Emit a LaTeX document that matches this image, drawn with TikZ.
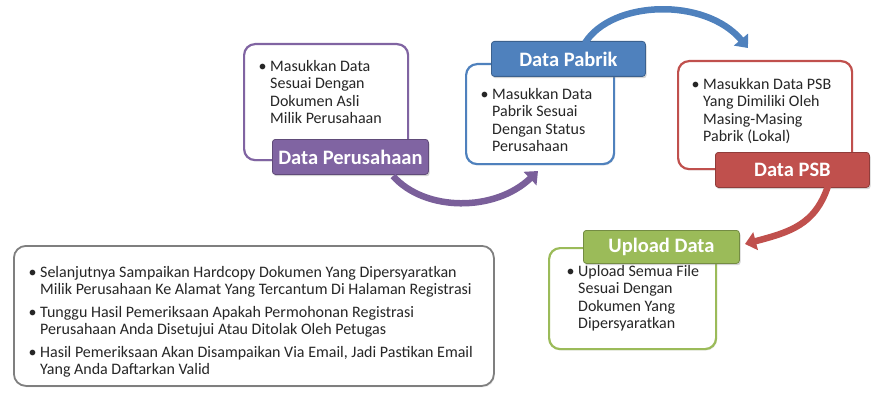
\documentclass[tikz,border=0pt]{standalone}
\usepackage{fontspec}
\setmainfont{Carlito}
\usetikzlibrary{arrows.meta,shadows}
\definecolor{cpur}{HTML}{8064A2}
\definecolor{cblu}{HTML}{4F81BD}
\definecolor{cred}{HTML}{C0504D}
\definecolor{cgrn}{HTML}{9BBB59}
\definecolor{cgry}{HTML}{7F7F7F}
\definecolor{ctxt}{HTML}{262626}
\newcommand\bl{\llap{\textbullet\hspace{3.5pt}}}
\begin{document}
\begin{tikzpicture}[x=1pt,y=-1pt,
  outbox/.style={draw=#1, line width=2.2pt, fill=white, rounded corners=11pt, anchor=north west, inner sep=0pt,
     drop shadow={shadow xshift=1pt, shadow yshift=-1.5pt, opacity=0.15}},
  lab/.style={draw=#1!75!black, line width=0.8pt, fill=#1, rounded corners=3pt, anchor=north west, inner sep=0pt,
     text=white, font=\fontsize{20.5}{22}\selectfont\bfseries,
     drop shadow={shadow xshift=1.2pt, shadow yshift=-1.8pt, opacity=0.35}},
  body/.style={anchor=north west, inner sep=0pt, align=left, text=ctxt, font=\fontsize{16}{17.5}\selectfont},
  arr/.style={draw=#1, line width=6.5pt, -{Triangle[length=11pt,width=18pt]}},
]
\useasboundingbox (0,0) rectangle (895,404);

% box 1
\node[outbox=cpur, minimum width=164pt, minimum height=116pt] (b1) at (243,43) {};
\node[lab=cpur, minimum width=156pt, minimum height=35pt] (l1) at (272,139) {Data Perusahaan};
\node[body] (t1) at (270,60) {\bl Masukkan Data\\Sesuai Dengan\\Dokumen Asli\\Milik Perusahaan};

% box 2
\node[outbox=cblu, minimum width=148pt, minimum height=100pt] (b2) at (465,63) {};
\node[lab=cblu, minimum width=154pt, minimum height=35pt] (l2) at (491,41) {Data Pabrik};
\node[body] (t2) at (492,88) {\bl Masukkan Data\\Pabrik Sesuai\\Dengan Status\\Perusahaan};

% box 3
\node[outbox=cred, minimum width=174pt, minimum height=108pt] (b3) at (677,60) {};
\node[lab=cred, minimum width=154pt, minimum height=35pt] (l3) at (715,152) {Data PSB};
\node[body] (t3) at (703,78) {\bl Masukkan Data PSB\\Yang Dimiliki Oleh\\Masing-Masing\\Pabrik (Lokal)};

% box 4
\node[outbox=cgrn, minimum width=167pt, minimum height=101pt] (b4) at (548,247) {};
\node[lab=cgrn, minimum width=156pt, minimum height=33pt] (l4) at (583,230) {Upload Data};
\node[body] (t4) at (578,265) {\bl Upload Semua File\\Sesuai Dengan\\Dokumen Yang\\Dipersyaratkan};

% box 5
\node[draw=cgry, line width=1.8pt, fill=white, rounded corners=12pt, anchor=north west, inner sep=0pt,
      minimum width=480pt, minimum height=140pt,
      drop shadow={shadow xshift=1pt, shadow yshift=-1.5pt, opacity=0.15}] (b5) at (13,245) {};
\node[body] (t5a) at (40,266) {\bl Selanjutnya Sampaikan Hardcopy Dokumen Yang Dipersyaratkan\\Milik Perusahaan Ke Alamat Yang Tercantum Di Halaman Registrasi};
\node[body] (t5b) at (40,306) {\bl Tunggu Hasil Pemeriksaan Apakah Permohonan Registrasi\\Perusahaan Anda Disetujui Atau Ditolak Oleh Petugas};
\node[body] (t5c) at (40,346) {\bl Hasil Pemeriksaan Akan Disampaikan Via Email, Jadi Pastikan Email\\Yang Anda Daftarkan Valid};

% connectors
\coordinate (a1s) at (393,176);
\coordinate (a1e) at (538,171);
\draw[arr=cpur!95!black] (a1s) .. controls (425,212) and (495,212) .. (a1e);
\coordinate (a2s) at (585,43);
\coordinate (a2e) at (748,48);
\draw[arr=cblu] (a2s) .. controls (612,0) and (705,-3) .. (a2e);
\coordinate (a3s) at (828,186);
\coordinate (a3e) at (745,244);
\draw[arr=cred] (a3s) .. controls (815,225) and (790,232) .. (a3e);
\end{tikzpicture}
\end{document}
